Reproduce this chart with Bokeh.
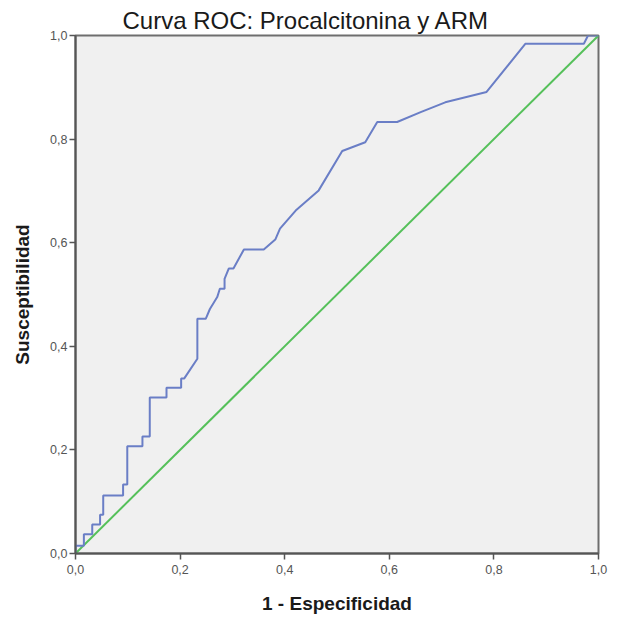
from bokeh.plotting import figure
from bokeh.models import Range1d, FixedTicker, CustomJSTickFormatter
from bokeh.embed import file_html
from bokeh.resources import INLINE

# ROC curve points: 1 - specificity (x) and sensitivity (y)
fpr = [0.0, 0.0, 0.016, 0.016, 0.032, 0.032, 0.047, 0.047, 0.053, 0.053,
       0.091, 0.091, 0.099, 0.099, 0.128, 0.128, 0.142, 0.142, 0.174, 0.174,
       0.202, 0.202, 0.208, 0.233, 0.233, 0.249, 0.257, 0.271, 0.276, 0.285,
       0.285, 0.293, 0.302, 0.322, 0.360, 0.382, 0.391, 0.421, 0.465, 0.510,
       0.554, 0.577, 0.615, 0.660, 0.707, 0.786, 0.860, 0.972, 0.980, 1.0]
tpr = [0.0, 0.015, 0.015, 0.037, 0.037, 0.056, 0.056, 0.075, 0.075, 0.112,
       0.112, 0.133, 0.133, 0.207, 0.207, 0.226, 0.226, 0.301, 0.301, 0.320,
       0.320, 0.338, 0.338, 0.376, 0.453, 0.453, 0.472, 0.495, 0.511, 0.511,
       0.530, 0.550, 0.550, 0.587, 0.587, 0.606, 0.627, 0.662, 0.701, 0.777,
       0.794, 0.833, 0.833, 0.852, 0.871, 0.891, 0.984, 0.984, 1.0, 1.0]

# reference line (chance)
ref_x = [0.0, 1.0]
ref_y = [0.0, 1.0]

ticks = [0.0, 0.2, 0.4, 0.6, 0.8, 1.0]

p = figure(width=618, height=618, frame_width=523, frame_height=518,
           x_range=Range1d(0, 1), y_range=Range1d(0, 1),
           output_backend="svg", toolbar_location=None,
           min_border_left=75, min_border_right=20,
           min_border_top=35, min_border_bottom=65,
           title="Curva ROC: Procalcitonina y ARM")

p.background_fill_color = "#F0F0F0"
p.border_fill_color = "white"
p.outline_line_color = "#6E6E6E"
p.outline_line_width = 2
p.grid.visible = False

p.title.align = "left"
p.title.offset = 47
p.title.text_font = "Liberation Sans"
p.title.text_font_size = "24px"
p.title.text_font_style = "normal"
p.title.text_color = "#1a1a1a"
p.title.standoff = 4

comma_fmt = CustomJSTickFormatter(code="return tick.toFixed(1).replace('.', ',');")

for ax in (p.xaxis[0], p.yaxis[0]):
    ax.ticker = FixedTicker(ticks=ticks)
    ax.formatter = comma_fmt
    ax.minor_tick_line_color = None
    ax.major_tick_out = 6
    ax.major_tick_in = 0
    ax.major_tick_line_color = "#555555"
    ax.major_tick_line_width = 1.5
    ax.axis_line_color = "#555555"
    ax.axis_line_width = 2
    ax.major_label_text_font = "Liberation Sans"
    ax.major_label_text_font_size = "12.5px"
    ax.major_label_text_color = "#555555"
    ax.axis_label_text_font = "Liberation Sans"
    ax.axis_label_text_font_size = "19px"
    ax.axis_label_text_font_style = "bold"
    ax.axis_label_text_color = "#1a1a1a"

p.xaxis.axis_label = "1 - Especificidad"
p.yaxis.axis_label = "Susceptibilidad"
p.xaxis.major_label_standoff = 5
p.xaxis.axis_label_standoff = 16
p.yaxis.major_label_standoff = 2
p.yaxis.axis_label_standoff = 14

p.line(ref_x, ref_y, line_color="#55C05A", line_width=2)
p.line(fpr, tpr, line_color="#6A7EC6", line_width=2)

open("out.html", "w").write(file_html(p, INLINE))
